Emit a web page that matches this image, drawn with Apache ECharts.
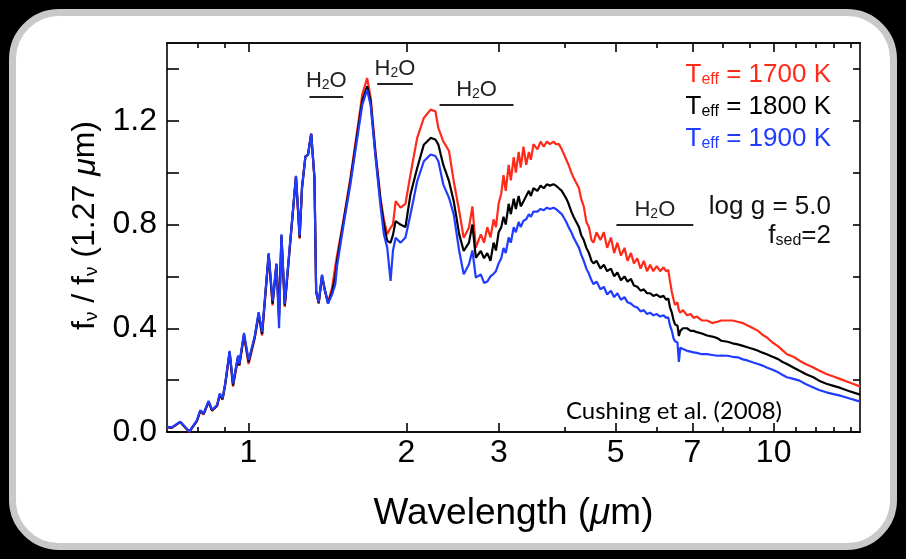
<!DOCTYPE html>
<html><head><meta charset="utf-8">
<script src="https://cdn.jsdelivr.net/npm/echarts@6/dist/echarts.min.js"></script>
<style>
html,body{margin:0;padding:0;background:#000;width:906px;height:559px;overflow:hidden;}
#panel{position:absolute;left:9px;top:9px;width:874px;height:527px;background:#fff;border:7px solid #c9c9c9;border-radius:50px;}
#c{position:absolute;left:0;top:0;width:906px;height:559px;}
</style>
</head><body><div id="panel"></div><div id="c"></div>
<script>
// ---- data (wavelength in micron, flux normalised at 1.27 micron) ----
const wavelength = [
  0.700, 0.715, 0.742, 0.772, 0.798,
  0.810, 0.822, 0.840, 0.853, 0.872,
  0.882, 0.893, 0.904, 0.921, 0.935,
  0.956, 0.961, 0.981, 1.001, 1.028,
  1.046, 1.062, 1.093, 1.112, 1.131,
  1.144, 1.156, 1.173, 1.197, 1.232,
  1.252, 1.265, 1.284, 1.299, 1.317,
  1.326, 1.336, 1.346, 1.361, 1.381,
  1.397, 1.418, 1.443, 1.464, 1.475,
  1.518, 1.564, 1.611, 1.647, 1.683,
  1.709, 1.746, 1.785, 1.811, 1.838,
  1.865, 1.885, 1.907, 1.948, 1.991,
  2.035, 2.096, 2.158, 2.223, 2.27,
  2.30, 2.35, 2.41, 2.46, 2.52,
  2.57, 2.63, 2.67, 2.71, 2.77,
  2.81,
  2.85, 2.89, 2.93, 2.96, 2.995,
  3.03, 3.06, 3.09, 3.13, 3.16,
  3.20, 3.23, 3.27, 3.30, 3.34,
  3.38, 3.42, 3.45, 3.49, 3.55,
  3.60, 3.65, 3.70, 3.75, 3.81,
  3.85, 3.90, 3.95, 3.99, 4.03,
  4.07, 4.12, 4.16, 4.21, 4.26,
  4.30, 4.35, 4.40, 4.45, 4.50,
  4.54, 4.60, 4.68, 4.75, 4.82,
  4.90, 4.97, 5.04, 5.12, 5.20,
  5.27, 5.35, 5.42, 5.50, 5.58,
  5.66, 5.74, 5.82, 5.90, 5.99,
  6.08, 6.17, 6.24, 6.30, 6.35,
  6.40, 6.45, 6.49, 6.56, 6.60,
  6.64, 6.72, 6.84, 6.95, 7.04,
  7.14, 7.30, 7.47, 7.64, 7.81,
  7.95, 8.17, 8.35, 8.54, 8.74,
  8.94, 9.14, 9.34, 9.52, 9.70,
  9.95, 10.2, 10.4, 10.6, 10.9,
  11.2, 11.5, 11.9, 12.2, 12.6,
  13.0, 13.4, 13.9, 14.4, 14.6
];
const flux1700 = [
  0.018, 0.016, 0.038, 0.0, 0.042,
  0.08, 0.068, 0.115, 0.082, 0.100,
  0.142, 0.125, 0.186, 0.305, 0.175,
  0.288, 0.255, 0.37, 0.262, 0.36,
  0.45, 0.372, 0.68, 0.488, 0.645,
  0.46, 0.755, 0.482, 0.69, 0.985,
  0.745, 0.94, 1.062, 1.07, 1.15,
  1.15, 0.98, 0.54, 0.495, 0.60,
  0.548, 0.50, 0.555, 0.64, 0.68,
  0.82, 0.98, 1.16, 1.30, 1.365,
  1.29, 1.08, 0.90, 0.82, 0.763,
  0.788, 0.80, 0.89, 0.865, 0.88,
  0.993, 1.134, 1.211, 1.243, 1.237,
  1.172, 1.121, 1.083, 0.967, 0.852,
  0.749, 0.788, 0.87, 0.711, 0.762,
  0.73,
  0.79, 0.75, 0.82, 0.79, 0.88,
  0.92, 0.99, 0.93, 1.03, 0.97,
  1.06, 1.00, 1.08, 1.02, 1.10,
  1.03, 1.08, 1.05, 1.11, 1.09,
  1.12, 1.10, 1.12, 1.11, 1.12,
  1.11, 1.11, 1.09, 1.07, 1.05,
  1.03, 1.00, 0.98, 0.96, 0.94,
  0.90, 0.87, 0.81, 0.79, 0.74,
  0.73, 0.77, 0.74, 0.77, 0.71,
  0.75, 0.69, 0.73, 0.68, 0.71,
  0.66, 0.69, 0.65, 0.67, 0.63,
  0.66, 0.62, 0.645, 0.62, 0.64,
  0.62, 0.635, 0.62, 0.625, 0.58,
  0.54, 0.51, 0.49, 0.50, 0.47,
  0.46, 0.47, 0.45, 0.455, 0.44,
  0.445, 0.43, 0.43, 0.42, 0.425,
  0.43, 0.43, 0.43, 0.425, 0.42,
  0.41, 0.40, 0.39, 0.375, 0.365,
  0.345, 0.33, 0.315, 0.30, 0.29,
  0.275, 0.262, 0.249, 0.237, 0.224,
  0.214, 0.204, 0.192, 0.18, 0.175
];
const flux1800 = [
  0.019, 0.017, 0.039, 0.001, 0.043,
  0.082, 0.07, 0.117, 0.083, 0.102,
  0.145, 0.127, 0.188, 0.309, 0.18,
  0.291, 0.258, 0.376, 0.27, 0.364,
  0.456, 0.378, 0.685, 0.495, 0.647,
  0.44, 0.758, 0.488, 0.695, 0.986,
  0.75, 0.941, 1.062, 1.07, 1.15,
  1.15, 0.98, 0.542, 0.497, 0.603,
  0.55, 0.497, 0.54, 0.60, 0.66,
  0.813, 0.967, 1.147, 1.275, 1.333,
  1.275, 1.07, 0.89, 0.80, 0.737,
  0.73, 0.76, 0.813, 0.80, 0.79,
  0.916, 1.018, 1.108, 1.134, 1.128,
  1.108, 1.03, 0.967, 0.89, 0.762,
  0.698, 0.73, 0.80, 0.672, 0.698,
  0.67,
  0.69, 0.66, 0.73, 0.70, 0.77,
  0.79, 0.83, 0.80, 0.88, 0.84,
  0.90, 0.86, 0.91, 0.87, 0.89,
  0.91, 0.93, 0.91, 0.94, 0.93,
  0.95, 0.94, 0.955, 0.95, 0.955,
  0.95, 0.94, 0.93, 0.915, 0.90,
  0.88, 0.85, 0.83, 0.81, 0.79,
  0.76, 0.74, 0.71, 0.69, 0.66,
  0.65, 0.66, 0.63, 0.645, 0.62,
  0.63, 0.60, 0.615, 0.585, 0.60,
  0.58, 0.59, 0.565, 0.56, 0.545,
  0.55, 0.535, 0.535, 0.525, 0.53,
  0.52, 0.525, 0.51, 0.515, 0.48,
  0.46, 0.43, 0.415, 0.41, 0.37,
  0.39, 0.40, 0.40, 0.39, 0.39,
  0.385, 0.38, 0.372, 0.368, 0.362,
  0.352, 0.348, 0.342, 0.338, 0.332,
  0.326, 0.32, 0.313, 0.306, 0.30,
  0.29, 0.281, 0.27, 0.262, 0.249,
  0.236, 0.224, 0.211, 0.198, 0.186,
  0.178, 0.17, 0.158, 0.148, 0.144
];
const flux1900 = [
  0.02, 0.018, 0.04, 0.002, 0.045,
  0.084, 0.072, 0.12, 0.085, 0.104,
  0.148, 0.13, 0.19, 0.313, 0.187,
  0.295, 0.263, 0.382, 0.277, 0.368,
  0.462, 0.386, 0.69, 0.505, 0.65,
  0.40, 0.762, 0.495, 0.70, 0.988,
  0.757, 0.942, 1.063, 1.07, 1.15,
  1.15, 0.98, 0.545, 0.50, 0.607,
  0.552, 0.495, 0.53, 0.57, 0.64,
  0.80, 0.955, 1.13, 1.26, 1.32,
  1.26, 1.06, 0.87, 0.763, 0.711,
  0.583, 0.70, 0.749, 0.73, 0.75,
  0.839, 0.967, 1.044, 1.07, 1.064,
  1.044, 0.954, 0.903, 0.839, 0.698,
  0.608, 0.647, 0.70, 0.595, 0.608,
  0.575,
  0.58, 0.60, 0.61, 0.62, 0.65,
  0.67, 0.71, 0.69, 0.75, 0.73,
  0.79, 0.77, 0.81, 0.79, 0.815,
  0.82, 0.84, 0.83, 0.85, 0.85,
  0.86, 0.855, 0.865, 0.86, 0.865,
  0.86, 0.85, 0.84, 0.825, 0.81,
  0.79, 0.77, 0.75, 0.73, 0.71,
  0.685, 0.66, 0.63, 0.61, 0.585,
  0.57, 0.58, 0.55, 0.56, 0.53,
  0.545, 0.52, 0.535, 0.51, 0.52,
  0.50, 0.495, 0.485, 0.48, 0.465,
  0.47, 0.455, 0.46, 0.45, 0.455,
  0.445, 0.45, 0.44, 0.442, 0.41,
  0.39, 0.36, 0.35, 0.345, 0.27,
  0.325, 0.32, 0.313, 0.31, 0.307,
  0.305, 0.30, 0.30, 0.297, 0.294,
  0.295, 0.294, 0.29, 0.288, 0.28,
  0.275, 0.268, 0.262, 0.256, 0.249,
  0.24, 0.23, 0.22, 0.211, 0.205,
  0.198, 0.185, 0.172, 0.162, 0.153,
  0.146, 0.14, 0.13, 0.121, 0.118
];
const xMajorTicks = [1, 2, 3, 5, 7, 10];
const xMinorTicks = [0.8, 0.9, 4, 6, 8, 9, 11, 12, 13, 14];
const yLabelTicks = [0, 0.4, 0.8, 1.2];
const yAllTicks = [0, 0.2, 0.4, 0.6, 0.8, 1.0, 1.2, 1.4];
const bandStart = [1.307, 1.759, 2.312, 5.02];
const bandEnd   = [1.515, 2.056, 3.197, 7.03];
const bandLevel = [1.294, 1.342, 1.262, 0.798];
const seriesNames = ['T_eff = 1700 K', 'T_eff = 1800 K', 'T_eff = 1900 K'];

// ---- styling ----
const FONT = '"Liberation Sans", Arial, Helvetica, sans-serif';
const RED = '#ff2a1a', BLACK = '#000000', BLUE = '#1f3cff';
const X_MIN = 0.7, X_MAX = 14.6, Y_MIN = 0, Y_MAX = 1.5;

function pairs(vals) { return wavelength.map((w, i) => [w, vals[i]]); }

function xAxisDef(grid, pos, ticks, len, labels) {
  return {
    type: 'log', logBase: 10, gridIndex: grid, position: pos, min: X_MIN, max: X_MAX,
    axisLine: { show: true, onZero: false, lineStyle: { color: '#000', width: 1.6 } },
    axisTick: { show: true, inside: true, length: len, customValues: ticks, lineStyle: { color: '#000', width: 1.6 } },
    axisLabel: labels ? {
      show: true, customValues: xMajorTicks, margin: 5, color: '#000', fontSize: 32, fontFamily: FONT,
      formatter: v => String(Math.round(v))
    } : { show: false },
    splitLine: { show: false }, minorTick: { show: false },
    name: labels ? 'Wavelength ({i|\u03bc}m)' : '', nameLocation: 'middle', nameGap: 63,
    nameTextStyle: { color: '#000', fontSize: 37, fontFamily: FONT,
      rich: { i: { fontStyle: 'italic', fontSize: 37, fontFamily: FONT, color: '#000' } } }
  };
}
function yAxisDef(grid, pos, len, labels, show) {
  return {
    type: 'value', gridIndex: grid, position: pos, min: Y_MIN, max: Y_MAX, show: show,
    axisLine: { show: true, lineStyle: { color: '#000', width: 1.6 } },
    axisTick: { show: true, inside: true, length: len, customValues: yAllTicks, lineStyle: { color: '#000', width: 1.6 } },
    axisLabel: labels ? {
      show: true, customValues: yLabelTicks, margin: 10, color: '#000', fontSize: 32, fontFamily: FONT,
      formatter: v => v.toFixed(1)
    } : { show: false },
    splitLine: { show: false },
    name: labels ? 'f{s|\u03bd} / f{s|\u03bd} (1.27 {i|\u03bc}m)' : '',
    nameLocation: 'middle', nameRotate: 90, nameGap: 56,
    nameTextStyle: { color: '#000', fontSize: 32, fontFamily: FONT, padding: [0, 0, 0, 24],
      rich: {
        s: { fontSize: 19, lineHeight: 12, verticalAlign: 'bottom', fontFamily: FONT, color: '#000' },
        i: { fontStyle: 'italic', fontSize: 32, fontFamily: FONT, color: '#000' }
      } }
  };
}

const gridRect = { left: 167, right: 46, top: 43, bottom: 127 };

function spectrum(name, vals, color) {
  return {
    name: name, type: 'line', xAxisIndex: 0, yAxisIndex: 0, data: pairs(vals),
    showSymbol: false, symbol: 'none', clip: true,
    lineStyle: { color: color, width: 2.2 }, itemStyle: { color: color }, z: 3
  };
}

const waterRich = {
  a: { fontSize: 22, fontFamily: FONT, color: '#222' },
  s: { fontSize: 14, lineHeight: 10, verticalAlign: 'bottom', fontFamily: FONT, color: '#222' }
};

const chart = echarts.init(document.getElementById('c'), null, { renderer: 'canvas' });
chart.setOption({
  backgroundColor: 'transparent',
  animation: false,
  grid: [Object.assign({}, gridRect), Object.assign({}, gridRect)],
  xAxis: [
    xAxisDef(0, 'bottom', xMajorTicks, 9, true),
    xAxisDef(0, 'top', xMajorTicks, 9, false),
    xAxisDef(1, 'bottom', xMinorTicks, 5, false),
    xAxisDef(1, 'top', xMinorTicks, 5, false)
  ],
  yAxis: [
    yAxisDef(0, 'left', 12, true, true),
    yAxisDef(0, 'right', 7, false, true),
    yAxisDef(1, 'left', 1, false, false)
  ],
  series: [
    spectrum(seriesNames[0], flux1700, RED),
    spectrum(seriesNames[1], flux1800, BLACK),
    spectrum(seriesNames[2], flux1900, BLUE),
    {
      name: 'H2O bands', type: 'line', xAxisIndex: 0, yAxisIndex: 0, data: [], z: 4,
      markLine: {
        silent: true, symbol: ['none', 'none'], animation: false,
        lineStyle: { color: '#222', width: 2, type: 'solid' },
        label: { show: true, position: 'middle', distance: 4, formatter: '{a|H}{s|2}{a|O}', rich: waterRich },
        data: bandStart.map((s, i) => [{ coord: [s, bandLevel[i]] }, { coord: [bandEnd[i], bandLevel[i]] }])
      }
    }
  ],
  graphic: [
    { type: 'text', x: 831, y: 75, style: { text: 'T{s|eff} = 1700 K', align: 'right', verticalAlign: 'middle', fill: RED, fontSize: 26, fontFamily: FONT,
      rich: { s: { fontSize: 16, lineHeight: 10, verticalAlign: 'bottom', fill: RED, fontFamily: FONT } } } },
    { type: 'text', x: 831, y: 107, style: { text: 'T{s|eff} = 1800 K', align: 'right', verticalAlign: 'middle', fill: BLACK, fontSize: 26, fontFamily: FONT,
      rich: { s: { fontSize: 16, lineHeight: 10, verticalAlign: 'bottom', fill: BLACK, fontFamily: FONT } } } },
    { type: 'text', x: 831, y: 139, style: { text: 'T{s|eff} = 1900 K', align: 'right', verticalAlign: 'middle', fill: BLUE, fontSize: 26, fontFamily: FONT,
      rich: { s: { fontSize: 16, lineHeight: 10, verticalAlign: 'bottom', fill: BLUE, fontFamily: FONT } } } },
    { type: 'text', x: 831, y: 207, style: { text: 'log g = 5.0', align: 'right', verticalAlign: 'middle', fill: '#111', fontSize: 26, fontFamily: FONT } },
    { type: 'text', x: 831, y: 236, style: { text: 'f{s|sed}=2', align: 'right', verticalAlign: 'middle', fill: '#111', fontSize: 26, fontFamily: FONT,
      rich: { s: { fontSize: 16, lineHeight: 10, verticalAlign: 'bottom', fill: '#111', fontFamily: FONT } } } },
    { type: 'text', x: 674, y: 411, style: { text: 'Cushing et al. (2008)', align: 'center', verticalAlign: 'middle', fill: '#000', fontSize: 24, fontFamily: 'Lato, "Open Sans", sans-serif' } }
  ]
});
</script>
</body></html>
